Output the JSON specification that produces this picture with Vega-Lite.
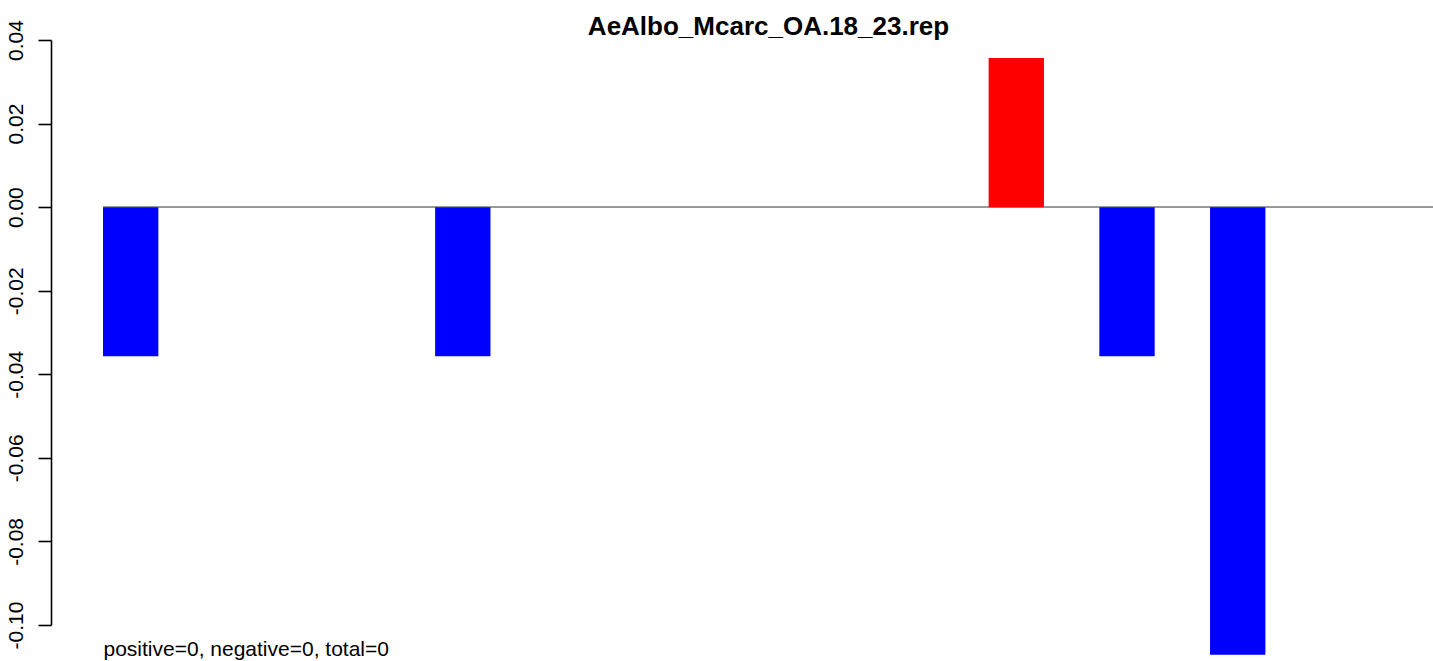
{
  "$schema": "https://vega.github.io/schema/vega-lite/v6.json",
  "width": 1382,
  "height": 585,
  "autosize": {"type": "none"},
  "padding": {"left": 51, "top": 40, "right": 0, "bottom": 36},
  "background": "white",
  "config": {"view": {"stroke": null}, "font": "Liberation Sans"},
  "title": {
    "text": "AeAlbo_Mcarc_OA.18_23.rep",
    "font": "Liberation Sans",
    "fontSize": 26,
    "fontWeight": "bold",
    "color": "black",
    "anchor": "middle",
    "frame": "group",
    "baseline": "alphabetic",
    "offset": 7,
    "dx": 26.5,
    "dy": 48.5
  },
  "data": {
    "values": [
      {"bar": 1, "value": -0.0357},
      {"bar": 2, "value": 0},
      {"bar": 3, "value": 0},
      {"bar": 4, "value": -0.0357},
      {"bar": 5, "value": 0},
      {"bar": 6, "value": 0},
      {"bar": 7, "value": 0},
      {"bar": 8, "value": 0},
      {"bar": 9, "value": 0.0357},
      {"bar": 10, "value": -0.0357},
      {"bar": 11, "value": -0.1071},
      {"bar": 12, "value": 0}
    ]
  },
  "layer": [
    {
      "mark": {"type": "rule", "color": "#999999", "strokeWidth": 1.3},
      "encoding": {
        "x": {"datum": 0.75, "type": "quantitative"},
        "x2": {"datum": 12.764},
        "y": {"datum": 0, "type": "quantitative"}
      }
    },
    {
      "mark": {"type": "bar", "width": 55.35},
      "encoding": {
        "x": {
          "field": "bar",
          "type": "quantitative",
          "scale": {"domain": [0.2803, 12.764], "nice": false, "zero": false, "padding": 0},
          "axis": {
            "title": "positive=0, negative=0, total=0",
            "titleFont": "Liberation Sans",
            "titleFontSize": 21,
            "titleFontWeight": "normal",
            "titleColor": "black",
            "titleAnchor": "start",
            "titleAlign": "left",
            "titleBaseline": "alphabetic",
            "titleX": 52,
            "titleY": 30.5,
            "domain": false,
            "ticks": false,
            "labels": false,
            "grid": false
          }
        },
        "y": {
          "field": "value",
          "type": "quantitative",
          "scale": {"domain": [-0.1, 0.04], "nice": false},
          "axis": {
            "title": null,
            "grid": false,
            "values": [-0.1, -0.08, -0.06, -0.04, -0.02, 0, 0.02, 0.04],
            "format": ".2f",
            "labelExpr": "replace(datum.label, '−', '-')",
            "labelAngle": 270,
            "labelAlign": "center",
            "labelBaseline": "alphabetic",
            "labelPadding": 16,
            "labelFont": "Liberation Sans",
            "labelFontSize": 21,
            "labelColor": "black",
            "labelOverlap": false,
            "labelFlush": false,
            "tickSize": 13,
            "tickWidth": 1.6,
            "tickColor": "black",
            "domainWidth": 1.6,
            "domainColor": "black"
          }
        },
        "color": {
          "condition": {"test": "datum.value > 0", "value": "#ff0000"},
          "value": "#0000ff"
        }
      }
    }
  ]
}
